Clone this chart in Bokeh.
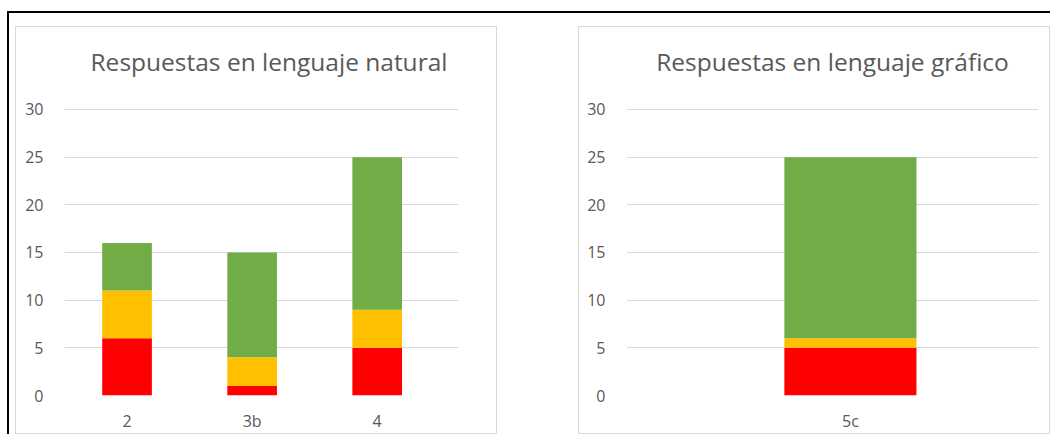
from bokeh.plotting import figure
from bokeh.models import ColumnDataSource, Range1d, FixedTicker, Spacer, Div, Title
from bokeh.layouts import row, column
from bokeh.embed import file_html
from bokeh.resources import INLINE

# ---- data ----
cats_natural = ["2", "3b", "4"]
rojo_natural = [6, 1, 5]
amarillo_natural = [5, 3, 4]
verde_natural = [5, 11, 16]

cats_grafico = ["5c"]
rojo_grafico = [5]
amarillo_grafico = [1]
verde_grafico = [19]

y_ticks = [0, 5, 10, 15, 20, 25, 30]
titles = ["Respuestas en lenguaje natural", "Respuestas en lenguaje gráfico"]
colors = ["#FF0000", "#FFC000", "#70AD47"]

FONT = "Open Sans"
TXT = "#595959"
GRID = "#d9d9d9"


def make_chart(title, cats, rojo, amarillo, verde, width, height, x_end, bar_w,
               border_left, border_right, title_align, title_offset):
    xs = [i + 0.5 for i in range(len(cats))]
    src = ColumnDataSource(dict(x=xs, rojo=rojo, amarillo=amarillo, verde=verde))
    p = figure(width=width, height=height, output_backend="svg", toolbar_location=None,
               x_range=Range1d(0, x_end), y_range=Range1d(0, 30.1),
               min_border_left=border_left, min_border_right=border_right,
               min_border_top=81, min_border_bottom=40, margin=0,
               styles={"border": "1px solid #d9d9d9", "box-sizing": "border-box"})
    p.vbar_stack(["rojo", "amarillo", "verde"], x="x", width=bar_w, color=colors,
                 line_color=None, source=src)
    # gap between title and plot area
    p.add_layout(Title(text=" ", text_font_size="1px", standoff=23), "above")
    p.add_layout(Title(text=title, align=title_align, vertical_align="bottom",
                       text_font=FONT, text_font_style="normal", text_font_size="24.5px",
                       text_color=TXT, standoff=10, offset=title_offset), "above")
    p.outline_line_color = None
    p.xgrid.grid_line_color = None
    p.ygrid.grid_line_color = GRID
    p.ygrid.grid_line_width = 1
    p.yaxis.ticker = FixedTicker(ticks=y_ticks)
    p.xaxis.ticker = FixedTicker(ticks=xs)
    p.xaxis.major_label_overrides = {x: c for x, c in zip(xs, cats)}
    for ax in (p.xaxis, p.yaxis):
        ax.axis_line_color = None
        ax.major_tick_line_color = None
        ax.minor_tick_line_color = None
        ax.major_label_text_font = FONT
        ax.major_label_text_font_size = "16px"
        ax.major_label_text_color = TXT
    p.yaxis.major_label_standoff = 15
    p.xaxis.major_label_standoff = 8
    return p


p1 = make_chart(titles[0], cats_natural, rojo_natural, amarillo_natural, verde_natural,
                482, 408, 3.15, 0.397, 48, 40, "left", 26)
p2 = make_chart(titles[1], cats_grafico, rojo_grafico, amarillo_grafico, verde_grafico,
                472, 408, 0.92, 0.295, 47, 13, "center", 0)

top_line = Div(text="", width=1043, height=2, margin=0,
               styles={"background-color": "black", "padding": "0"})
left_line = Div(text="", width=2, height=421, margin=0,
                styles={"background-color": "black", "padding": "0"})

charts = column(Spacer(height=13, margin=0),
                row(p1, Spacer(width=81, margin=0), p2, margin=0), margin=0)
framed = column(top_line,
                row(left_line, Spacer(width=6, margin=0), charts, margin=0), margin=0)
root = column(Spacer(height=11, margin=0),
              row(Spacer(width=7, margin=0), framed, margin=0), margin=0)

open("out.html", "w").write(file_html(root, INLINE))
